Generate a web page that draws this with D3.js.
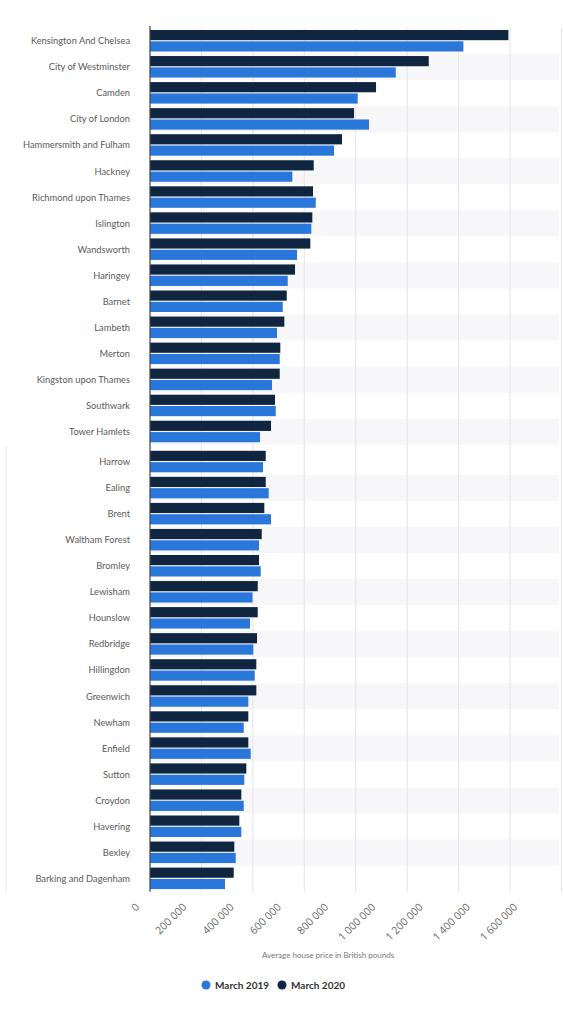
<!DOCTYPE html>
<html>
<head>
<meta charset="utf-8">
<script src="https://cdn.jsdelivr.net/npm/d3@7"></script>
<style>
  body { margin: 0; background: #fff; }
  svg { display: block; font-family: Lato, "Open Sans", sans-serif; }
</style>
</head>
<body>
<div id="chart"></div>
<script>
const WIDTH = 563;
const HEIGHT = 1024;

// London boroughs, sorted by March 2020 price
const categories = [
  "Kensington And Chelsea", "City of Westminster", "Camden", "City of London",
  "Hammersmith and Fulham", "Hackney", "Richmond upon Thames", "Islington",
  "Wandsworth", "Haringey", "Barnet", "Lambeth", "Merton", "Kingston upon Thames",
  "Southwark", "Tower Hamlets", "Harrow", "Ealing", "Brent", "Waltham Forest",
  "Bromley", "Lewisham", "Hounslow", "Redbridge", "Hillingdon", "Greenwich",
  "Newham", "Enfield", "Sutton", "Croydon", "Havering", "Bexley", "Barking and Dagenham"
];

const march2019 = [
  1218500, 955500, 807700, 851700, 715600, 553400, 644400, 627300,
  571700, 535500, 516100, 493900, 504400, 474500, 488900, 427800,
  439500, 461600, 470600, 423900, 430500, 398600, 388900, 401700,
  407200, 382300, 364400, 391600, 366700, 364400, 355100, 333300, 291700
];

const march2020 = [
  1393500, 1083800, 878900, 793400, 746700, 636600, 633900, 631200,
  623400, 563900, 531600, 522300, 506700, 504400, 486100, 470600,
  450000, 450000, 444500, 434400, 423900, 418900, 418900, 416100,
  413400, 413400, 382300, 382300, 374500, 355100, 347300, 327800, 325500
];

const xTicks = [0, 200000, 400000, 600000, 800000, 1000000, 1200000, 1400000, 1600000];
const tickLabels = ["0", "200 000", "400 000", "600 000", "800 000", "1 000 000", "1 200 000", "1 400 000", "1 600 000"];

const seriesNames = ["March 2019", "March 2020"];
const COLORS = { "March 2019": "#2a77dc", "March 2020": "#0f2540" };

const LEFT = 150;
const RIGHT = 561.5;
const TOP = 28;
const STEP = 26.05;
const GAP = 4;      // the second block of rows sits a little lower
const SPLIT = 16;   // index of the first row of the lower block

const svg = d3.select("#chart").append("svg")
  .attr("width", WIDTH)
  .attr("height", HEIGHT);

const x = d3.scaleLinear()
  .domain([0, 1600000])
  .range([LEFT, RIGHT]);

const y = d3.scaleBand()
  .domain(categories)
  .range([TOP, TOP + STEP * categories.length]);

const rowY = (c, i) => y(c) + (i >= SPLIT ? GAP : 0);
const bottomY = TOP + STEP * categories.length + GAP;

const sub = d3.scaleBand()
  .domain(["March 2020", "March 2019"])
  .range([2, 23.5])
  .paddingInner(0.1);

// stripes
svg.append("g").selectAll("rect")
  .data(categories.map((c, i) => ({ c, i })).filter(d => d.i % 2 === 1))
  .enter().append("rect")
  .attr("x", LEFT)
  .attr("y", d => rowY(d.c, d.i))
  .attr("width", 559 - LEFT)
  .attr("height", y.step())
  .attr("fill", "#f7f7f9");

// gridlines
svg.append("g").selectAll("line")
  .data(xTicks.slice(1))
  .enter().append("line")
  .attr("x1", d => x(d))
  .attr("x2", d => x(d))
  .attr("y1", TOP)
  .attr("y2", bottomY)
  .attr("stroke", "#e4e4e8")
  .attr("stroke-width", 1);

// faint frame line of the lower block
svg.append("line")
  .attr("x1", 6).attr("x2", 6)
  .attr("y1", TOP + STEP * SPLIT + 2).attr("y2", bottomY)
  .attr("stroke", "#e6e8ee");

// bars
const rows = svg.append("g").selectAll("g")
  .data(categories.map((c, i) => ({ c, i, v19: march2019[i], v20: march2020[i] })))
  .enter().append("g")
  .attr("transform", d => `translate(0,${rowY(d.c, d.i)})`);

rows.append("rect")
  .attr("x", x(0))
  .attr("y", sub("March 2020"))
  .attr("width", d => x(d.v20) - x(0))
  .attr("height", sub.bandwidth())
  .attr("fill", COLORS["March 2020"]);

rows.append("rect")
  .attr("x", x(0))
  .attr("y", sub("March 2019"))
  .attr("width", d => x(d.v19) - x(0))
  .attr("height", sub.bandwidth())
  .attr("fill", COLORS["March 2019"]);

// category labels
rows.append("text")
  .attr("x", 130)
  .attr("y", y.bandwidth() / 2)
  .attr("dy", "0.35em")
  .attr("text-anchor", "end")
  .attr("font-size", 9.3)
  .attr("fill", "#5a5a5a")
  .text(d => d.c);

// axis line
svg.append("line")
  .attr("x1", LEFT).attr("x2", LEFT)
  .attr("y1", TOP - 2).attr("y2", bottomY)
  .attr("stroke", "#444")
  .attr("stroke-width", 1.2);

// x tick labels (rotated) - they sit on a slightly tighter spacing than the grid
const xl = d3.scaleLinear()
  .domain([0, 1600000])
  .range([140, 518]);

svg.append("g").selectAll("text")
  .data(xTicks)
  .enter().append("text")
  .attr("transform", d => `translate(${xl(d)},${bottomY + 16}) rotate(-45)`)
  .attr("text-anchor", "end")
  .attr("font-family", "'Open Sans', sans-serif")
  .attr("font-size", 10.5)
  .attr("fill", "#666")
  .text((d, i) => tickLabels[i]);

// axis title
svg.append("text")
  .attr("x", 328)
  .attr("y", 958)
  .attr("text-anchor", "middle")
  .attr("font-size", 8)
  .attr("fill", "#777")
  .text("Average house price in British pounds");

// legend
const legend = svg.append("g")
  .attr("transform", "translate(206,985)");

const lx = [0, 76];
seriesNames.forEach((s, i) => {
  const g = legend.append("g").attr("transform", `translate(${lx[i]},0)`);
  g.append("circle").attr("r", 4.5).attr("fill", COLORS[s]);
  g.append("text")
    .attr("x", 9)
    .attr("dy", "0.35em")
    .attr("font-size", 10)
    .attr("font-weight", "bold")
    .attr("fill", "#333")
    .text(s);
});
</script>
</body>
</html>
